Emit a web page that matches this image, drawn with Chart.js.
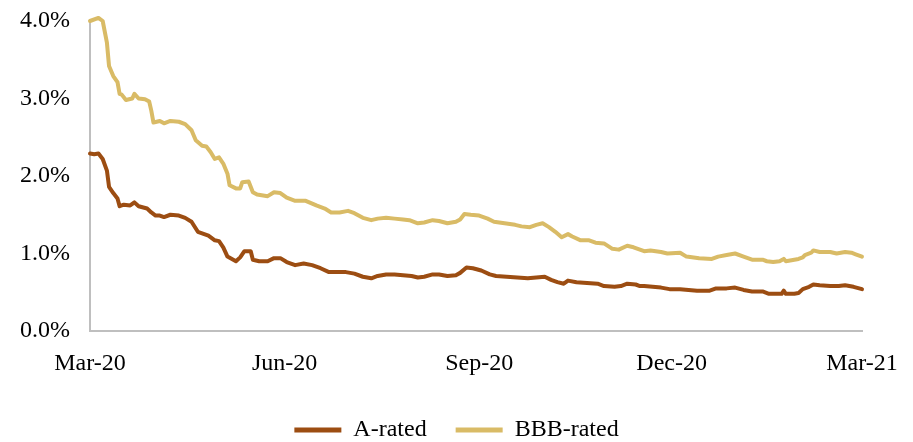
<!DOCTYPE html>
<html>
<head>
<meta charset="utf-8">
<script src="https://cdn.jsdelivr.net/npm/chart.js@4/dist/chart.umd.min.js"></script>
<style>
  html, body { margin: 0; padding: 0; background: #ffffff; }
  #wrap { width: 913px; height: 442px; position: relative; }
</style>
</head>
<body>
<div id="wrap"><canvas id="chart"></canvas></div>
<script>
// Day offsets counted from 1 March 2020, with the quarterly tick labels
const tickDays = [0, 92, 184, 275, 365];
const tickLabels = ['Mar-20', 'Jun-20', 'Sep-20', 'Dec-20', 'Mar-21'];

// A-rated spread (%)
const aRatedDays = [0, 2, 4, 6, 8, 9, 11, 13, 14, 16, 19, 21, 23, 27, 29, 31, 33, 35, 38, 42,
  45, 48, 51, 54, 56, 59, 61, 63, 65, 69, 71, 73, 76, 77, 80, 84, 87, 90, 93, 97,
  101, 105, 109, 113, 117, 121, 125, 129, 133, 136, 140, 144, 148, 152, 155, 158, 162, 165, 169, 173,
  175, 178, 181, 185, 189, 192, 197, 202, 207, 211, 215, 218, 221, 224, 226, 230, 235, 240, 243, 248,
  251, 254, 258, 260, 262, 266, 270, 274, 279, 283, 287, 293, 296, 301, 305, 309, 313, 318, 321, 325,
  327, 328, 329, 333, 335, 337, 340, 342, 345, 350, 354, 357, 361, 365];
const aRatedSpread = [2.29, 2.28, 2.29, 2.22, 2.07, 1.86, 1.78, 1.71, 1.61, 1.63, 1.62, 1.66, 1.61, 1.58, 1.53, 1.49, 1.49, 1.47, 1.50, 1.49,
  1.46, 1.41, 1.28, 1.25, 1.23, 1.17, 1.16, 1.08, 0.96, 0.90, 0.95, 1.03, 1.03, 0.92, 0.90, 0.90, 0.94, 0.94, 0.89, 0.85,
  0.87, 0.85, 0.81, 0.76, 0.76, 0.76, 0.74, 0.70, 0.68, 0.71, 0.73, 0.73, 0.72, 0.71, 0.69, 0.70, 0.73, 0.73, 0.71, 0.72,
  0.75, 0.82, 0.81, 0.78, 0.73, 0.71, 0.70, 0.69, 0.68, 0.69, 0.70, 0.66, 0.63, 0.61, 0.65, 0.63, 0.62, 0.61, 0.58, 0.57,
  0.58, 0.61, 0.60, 0.58, 0.58, 0.57, 0.56, 0.54, 0.54, 0.53, 0.52, 0.52, 0.55, 0.55, 0.56, 0.53, 0.51, 0.51, 0.48, 0.48,
  0.48, 0.52, 0.48, 0.48, 0.49, 0.54, 0.57, 0.60, 0.59, 0.58, 0.58, 0.59, 0.57, 0.54];

// BBB-rated spread (%)
const bbbRatedDays = [0, 4, 6, 8, 9, 11, 13, 14, 15, 17, 20, 21, 23, 26, 28, 29, 30, 33, 35, 38,
  42, 45, 48, 50, 53, 55, 57, 59, 61, 63, 65, 66, 69, 71, 72, 75, 77, 79, 84, 87,
  90, 93, 97, 102, 107, 111, 114, 118, 122, 125, 129, 133, 136, 140, 144, 148, 151, 155, 158, 162,
  165, 169, 173, 175, 177, 180, 184, 188, 191, 196, 201, 204, 208, 211, 214, 217, 220, 223, 226, 228,
  232, 236, 239, 243, 247, 250, 254, 257, 262, 265, 270, 273, 279, 282, 288, 294, 297, 301, 305, 309,
  313, 318, 320, 323, 326, 328, 329, 333, 335, 337, 338, 341, 342, 345, 350, 353, 357, 360, 362, 365];
const bbbRatedSpread = [4.00, 4.04, 4.00, 3.72, 3.42, 3.29, 3.21, 3.06, 3.05, 2.98, 3.00, 3.06, 3.00, 2.99, 2.96, 2.84, 2.69, 2.71, 2.68, 2.71,
  2.70, 2.67, 2.59, 2.46, 2.39, 2.38, 2.31, 2.22, 2.24, 2.16, 2.03, 1.88, 1.84, 1.84, 1.92, 1.93, 1.79, 1.76, 1.74, 1.79,
  1.78, 1.72, 1.68, 1.68, 1.62, 1.58, 1.53, 1.53, 1.55, 1.52, 1.46, 1.43, 1.45, 1.46, 1.45, 1.44, 1.43, 1.39, 1.40, 1.43,
  1.42, 1.39, 1.41, 1.44, 1.51, 1.50, 1.49, 1.45, 1.41, 1.39, 1.37, 1.35, 1.34, 1.37, 1.39, 1.34, 1.28, 1.21, 1.25, 1.22,
  1.17, 1.17, 1.14, 1.13, 1.06, 1.05, 1.10, 1.08, 1.03, 1.04, 1.02, 1.00, 1.01, 0.96, 0.94, 0.93, 0.96, 0.98, 1.00, 0.96,
  0.92, 0.92, 0.90, 0.89, 0.90, 0.93, 0.90, 0.92, 0.93, 0.95, 0.98, 1.01, 1.04, 1.02, 1.02, 1.00, 1.02, 1.01, 0.99, 0.96];

const seriesNames = ['A-rated', 'BBB-rated'];
const seriesColors = ['#9C4D12', '#D9BB66'];
const axisColor = '#BFBFBF';

function toPoints(days, values) {
  return days.map((d, i) => ({ x: d, y: values[i] }));
}

Chart.defaults.font.family = "'Liberation Serif', 'Times New Roman', serif";
Chart.defaults.font.size = 24;
Chart.defaults.color = '#000000';

function lineDataset(i, days, values) {
  return {
    label: seriesNames[i],
    data: toPoints(days, values),
    borderColor: seriesColors[i],
    backgroundColor: seriesColors[i],
    borderWidth: 4,
    pointRadius: 0,
    tension: 0,
    clip: false,
    borderJoinStyle: 'round',
    borderCapStyle: 'round'
  };
}

new Chart(document.getElementById('chart'), {
  type: 'line',
  data: {
    datasets: [
      lineDataset(0, aRatedDays, aRatedSpread),
      lineDataset(1, bbbRatedDays, bbbRatedSpread)
    ]
  },
  options: {
    responsive: true,
    maintainAspectRatio: false,
    animation: false,
    layout: { padding: { top: 21, left: 0, right: 0, bottom: 0 } },
    plugins: {
      tooltip: { enabled: false },
      legend: {
        position: 'bottom',
        maxHeight: 53,
        labels: {
          boxWidth: 47,
          boxHeight: 5,
          padding: 29,
          font: { size: 24 },
          generateLabels(chart) {
            return chart.data.datasets.map((ds, i) => ({
              text: ds.label,
              fillStyle: ds.borderColor,
              strokeStyle: ds.borderColor,
              lineWidth: 0,
              hidden: false,
              datasetIndex: i
            }));
          }
        }
      }
    },
    scales: {
      x: {
        type: 'linear',
        min: tickDays[0],
        max: tickDays[tickDays.length - 1],
        grid: { display: false, drawTicks: false },
        border: { display: true, color: axisColor, width: 2 },
        ticks: {
          autoSkip: false,
          maxRotation: 0,
          padding: 18,
          callback: (value) => {
            const idx = tickDays.indexOf(value);
            return idx >= 0 ? tickLabels[idx] : '';
          }
        },
        afterBuildTicks: (scale) => {
          scale.ticks = tickDays.map((v) => ({ value: v }));
        },
        afterFit: (scale) => {
          scale.height = 58;
          scale.paddingRight = 51;
        }
      },
      y: {
        min: 0,
        max: 4,
        grid: { display: false, drawTicks: false },
        border: { display: true, color: axisColor, width: 2 },
        ticks: {
          stepSize: 1,
          padding: 20,
          callback: (value) => value.toFixed(1) + '%'
        },
        afterFit: (scale) => {
          scale.width = 90;
          scale.paddingTop = 0;
          scale.paddingBottom = 0;
        }
      }
    }
  }
});
</script>
</body>
</html>
